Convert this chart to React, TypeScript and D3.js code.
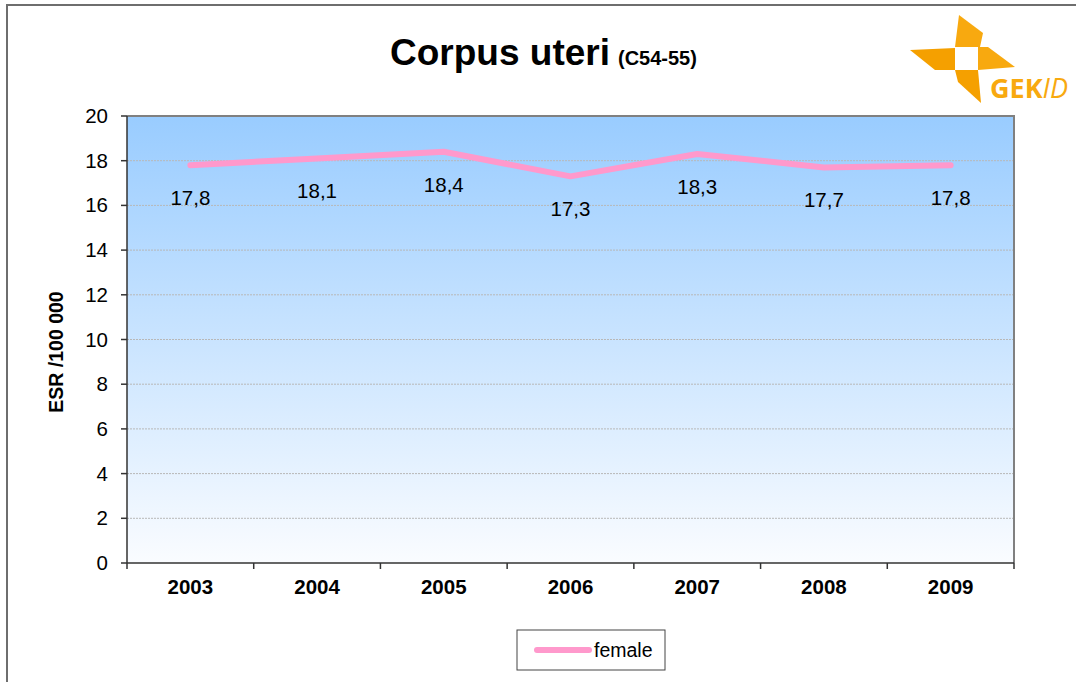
import React from "react";
import * as d3 from "d3";

const years = ["2003", "2004", "2005", "2006", "2007", "2008", "2009"];
const female = [17.8, 18.1, 18.4, 17.3, 18.3, 17.7, 17.8];
const yTicks = [0, 2, 4, 6, 8, 10, 12, 14, 16, 18, 20];

export default function App() {
  const W = 1076, H = 682;
  const L = 127, R = 1014, T = 116, B = 563;
  const x = d3.scaleBand<string>().domain(years).range([L, R]);
  const y = d3.scaleLinear().domain([0, 20]).range([B, T]);
  const line = d3
    .line<number>()
    .x((_, i) => (x(years[i]) as number) + x.bandwidth() / 2)
    .y((d) => y(d));
  const fmt = (v: number) => v.toFixed(1).replace(".", ",");
  const orange = "#F8A90F";
  return (
    <svg width={W} height={H} style={{ position: "absolute", left: 0, top: 0, fontFamily: "Arial, 'Liberation Sans', sans-serif" }}>
      <defs>
        <linearGradient id="bg" x1="0" y1="0" x2="0" y2="1">
          <stop offset="0" stopColor="#99CCFF" />
          <stop offset="1" stopColor="#FAFCFF" />
        </linearGradient>
      </defs>
      <rect x={0} y={0} width={W} height={H} fill="#fff" />
      <path d={`M7,${H + 5} V5 H${W + 5}`} fill="none" stroke="#6e6e6e" strokeWidth={2} />
      {/* title */}
      <text x={390} y={65} fontSize={37} fontWeight="bold" fill="#000">
        Corpus uteri
        <tspan fontSize={20} dx={8}>(C54-55)</tspan>
      </text>
      {/* logo */}
      <g fill={orange}>
        <polygon points="959,15 983,33 980,47 955,47" />
        <polygon points="910,50 955,48 955,70 935,70" fill="#F5A000" />
        <polygon points="978,47 988,47 1015,67 978,70" />
        <polygon points="955,70 978,70 981,103 958,82" fill="#F5A000" />
        <text x={990} y={98} fontSize={27} fontWeight="bold" fill={orange} style={{ fontFamily: "'Open Sans', Arial, sans-serif" }}>
          GEK<tspan fontStyle="italic" fontWeight="normal">ID</tspan>
        </text>
      </g>
      {/* plot area */}
      <rect x={L} y={T} width={R - L} height={B - T} fill="url(#bg)" />
      {yTicks.slice(1, -1).map((t) => (
        <line key={t} x1={L} x2={R} y1={y(t)} y2={y(t)} stroke="#b8b8b8" strokeWidth={1} strokeDasharray="2,1" />
      ))}
      <path d={`M${L},${T} H${R} V${B}`} fill="none" stroke="#808080" strokeWidth={2} />
      <line x1={L} x2={L} y1={T} y2={B} stroke="#333" strokeWidth={1.5} />
      <line x1={L} x2={R} y1={B} y2={B} stroke="#333" strokeWidth={1.5} />
      {yTicks.map((t) => (
        <g key={t}>
          <line x1={L - 6} x2={L} y1={y(t)} y2={y(t)} stroke="#333" strokeWidth={1.5} />
          <text x={108} y={y(t) + 7} fontSize={20.5} textAnchor="end" fill="#000">{t}</text>
        </g>
      ))}
      {years.map((yr, i) => (
        <g key={yr}>
          <line x1={x(yr) as number} x2={x(yr) as number} y1={B} y2={B + 6} stroke="#333" strokeWidth={1.5} />
          {i === years.length - 1 && (
            <line x1={R} x2={R} y1={B} y2={B + 6} stroke="#333" strokeWidth={1.5} />
          )}
          <text x={(x(yr) as number) + x.bandwidth() / 2} y={594} fontSize={20.5} fontWeight="bold" textAnchor="middle" fill="#000">{yr}</text>
        </g>
      ))}
      <text transform={`translate(63,352) rotate(-90)`} fontSize={19.5} fontWeight="bold" textAnchor="middle" fill="#000">ESR /100 000</text>
      <path d={line(female) || ""} fill="none" stroke="#FF99CC" strokeWidth={6} strokeLinecap="round" strokeLinejoin="round" />
      {female.map((v, i) => (
        <text key={i} x={(x(years[i]) as number) + x.bandwidth() / 2} y={y(v) + 40} fontSize={20.5} textAnchor="middle" fill="#000">{fmt(v)}</text>
      ))}
      {/* legend */}
      <rect x={517} y={630} width={148} height={40} fill="#fff" stroke="#444" strokeWidth={1} />
      <line x1={537} x2={589} y1={650} y2={650} stroke="#FF99CC" strokeWidth={6} strokeLinecap="round" />
      <text x={594} y={657} fontSize={19.5} fill="#000">female</text>
    </svg>
  );
}
